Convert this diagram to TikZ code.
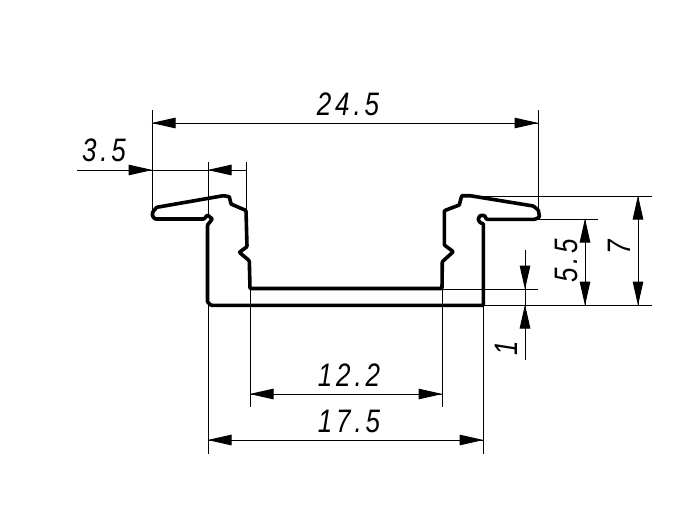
\documentclass[tikz,border=0pt]{standalone}
\usepackage{fontspec}
\newfontfamily\dimfont[FakeStretch=0.8,LetterSpace=12]{Liberation Sans}
\usetikzlibrary{arrows.meta}
\tikzset{
  profile/.style={line width=3.6pt,line join=round,line cap=round,rounded corners=0.8pt},
  dimline/.style={line width=1pt},
  dimtip/.style={line width=1pt,-{Triangle[length=24pt,width=10.5pt]},shorten >=-0.5pt},
  dimtext/.style={inner sep=0pt,font=\dimfont\itshape\fontsize{32.5}{32.5}\selectfont}
}
\begin{document}
\begin{tikzpicture}[x=1pt,y=-1pt]
\useasboundingbox[fill=white] (0,0) rectangle (690,517);
% extension lines
\draw[dimline] (152,110) -- (152,210);
\draw[dimline] (538,110) -- (538,212);
\draw[dimline] (208,162) -- (208,216);
\draw[dimline] (246,162) -- (246,211);
\draw[dimline] (208,305) -- (208,454);
\draw[dimline] (250,289) -- (250,407);
\draw[dimline] (442,289) -- (442,407);
\draw[dimline] (483,305) -- (483,454);
\draw[dimline] (470,196) -- (652,196);
\draw[dimline] (538,219) -- (598,219);
\draw[dimline] (442,289) -- (538,289);
\draw[dimline] (483,305) -- (652,305);
% profile
\draw[profile] (152.5,213) -- (153.5,211) -- (156.7,207.3) -- (223.3,195.7) -- (229.3,196.7) -- (231,204) -- (246,210.5) -- (247,246.7) -- (239.3,252.3) -- (249.3,260.7) -- (250,288.5) -- (442,288.5) -- (442.3,261.7) -- (453.3,251.7) -- (444.3,245) -- (444.3,210.7) -- (459.3,205) -- (461.7,195.7) -- (470,195.7) -- (533.3,206) -- (538.3,210) -- (539.5,217) -- (535,219.3) -- (486.5,219.3) -- (484.5,215.5) -- (480,215.5) -- (478,219.5) -- (480.5,223) -- (483.3,223.5) -- (483.3,305.3) -- (211,305.3) -- (207.5,302) -- (207.5,225) -- (212.3,219) -- (207.5,215) -- (204,219) -- (155,219) -- (152.5,216) -- cycle;
% dimension lines
\draw[dimline] (152,123) -- (538,123);
\draw[dimtip] (176,123) -- (152,123);
\draw[dimtip] (514,123) -- (538,123);
\draw[dimline] (77,170) -- (246,170);
\draw[dimtip] (129,170) -- (152,170);
\draw[dimtip] (232,170) -- (208,170);
\draw[dimline] (250,394) -- (442,394);
\draw[dimtip] (274,394) -- (250,394);
\draw[dimtip] (418,394) -- (442,394);
\draw[dimline] (208,440) -- (483,440);
\draw[dimtip] (232,440) -- (208,440);
\draw[dimtip] (459,440) -- (483,440);
\draw[dimline] (638,196) -- (638,305);
\draw[dimtip] (638,220) -- (638,196);
\draw[dimtip] (638,281) -- (638,305);
\draw[dimline] (585,219) -- (585,305);
\draw[dimtip] (585,243) -- (585,219);
\draw[dimtip] (585,281) -- (585,305);
\draw[dimline] (525,250) -- (525,360);
\draw[dimtip] (525,265) -- (525,289);
\draw[dimtip] (525,329) -- (525,305);
% labels
\node[dimtext] (a) at (348,104) {24.5};
\node[dimtext] (b) at (104,150) {3.5};
\node[dimtext] (c) at (349,375) {12.2};
\node[dimtext] (d) at (349,421) {17.5};
\node[dimtext,rotate=90] (e) at (566,261) {5.5};
\node[dimtext,rotate=90] (f) at (619,247) {7};
\node[dimtext,rotate=90] (g) at (506,348) {1};
\end{tikzpicture}
\end{document}
